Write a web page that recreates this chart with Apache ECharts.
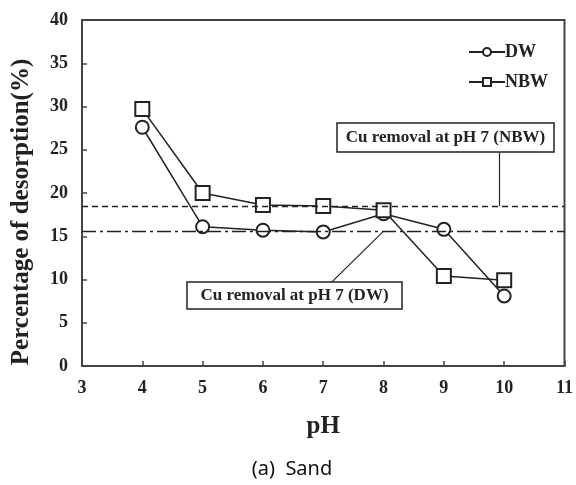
<html>
<head>
<meta charset="UTF-8">
<script src="https://cdn.jsdelivr.net/npm/echarts@6/dist/echarts.min.js"></script>
</head>
<body style="margin:0;background:#fff">
<div id="main" style="width:576px;height:485px;"></div>
<script>
var phValues = [4, 5, 6, 7, 8, 9, 10];
var dwValues = [27.6, 16.1, 15.7, 15.5, 17.6, 15.8, 8.1];
var nbwValues = [29.7, 20.0, 18.6, 18.5, 18.0, 10.4, 9.9];
var refNBW = 18.5;
var refDW = 15.6;

var serif = '"Liberation Serif", "Times New Roman", serif';
var ink = '#222';

function pairs(xs, ys) {
	var res = [];
	for (var i = 0; i < xs.length; i++) res.push([xs[i], ys[i]]);
	return res;
}

var chart = echarts.init(document.getElementById('main'));
chart.setOption({
	animation: false,
	backgroundColor: '#fff',
	grid: { left: 82, right: 9, top: 20, bottom: 119, show: true, borderColor: '#444', borderWidth: 2 },
	legend: {
		orient: 'vertical', left: 463, top: 38, itemGap: 12,
		itemWidth: 36, itemHeight: 10,
		textStyle: { fontFamily: serif, fontWeight: 'bold', fontSize: 18, color: ink, padding: [0, 0, 0, -5] },
		data: ['DW', 'NBW']
	},
	xAxis: {
		type: 'value', min: 3, max: 11, interval: 1,
		name: 'pH', nameLocation: 'middle', nameGap: 48,
		nameTextStyle: { fontFamily: serif, fontWeight: 'bold', fontSize: 25, color: ink },
		axisLine: { lineStyle: { color: '#444', width: 2 } },
		axisTick: { inside: true, length: 5, lineStyle: { color: '#444', width: 1.5 } },
		axisLabel: { fontFamily: serif, fontWeight: 'bold', fontSize: 18, color: ink, margin: 13 },
		splitLine: { show: false }
	},
	yAxis: {
		type: 'value', min: 0, max: 40, interval: 5,
		axisLine: { lineStyle: { color: '#444', width: 2 } },
		axisTick: { inside: true, length: 5, lineStyle: { color: '#444', width: 1.5 } },
		axisLabel: { fontFamily: serif, fontWeight: 'bold', fontSize: 18, color: ink, margin: 14 },
		splitLine: { show: false }
	},
	series: [
		{
			name: 'DW', type: 'line', data: pairs(phValues, dwValues),
			symbol: 'emptyCircle', symbolSize: 13, z: 3,
			lineStyle: { color: ink, width: 1.5 },
			itemStyle: { color: ink, borderColor: ink, borderWidth: 1.5 },
			markLine: {
				silent: true, symbol: 'none', label: { show: false },
				data: [
					[{ coord: [3, refDW], lineStyle: { type: [14, 4, 3, 4], color: ink, width: 1.3 } }, { coord: [11, refDW] }],
					[{ coord: [7.14, 9.7], lineStyle: { type: 'solid', color: ink, width: 1.2 } }, { coord: [8, refDW] }]
				]
			}
		},
		{
			name: 'NBW', type: 'line', data: pairs(phValues, nbwValues),
			symbol: 'emptyRect', symbolSize: 14, z: 3,
			lineStyle: { color: ink, width: 1.5 },
			itemStyle: { color: ink, borderColor: ink, borderWidth: 1.5 },
			markLine: {
				silent: true, symbol: 'none', label: { show: false },
				data: [
					[{ coord: [3, refNBW], lineStyle: { type: [6, 4], color: ink, width: 1.3 } }, { coord: [11, refNBW] }],
					[{ coord: [9.91, 24.7], lineStyle: { type: 'solid', color: ink, width: 1.2 } }, { coord: [9.91, refNBW] }]
				]
			}
		}
	],
	graphic: [
		{
			type: 'text', x: 22, y: 212, rotation: Math.PI / 2,
			style: { text: 'Percentage of desorption(%)', fontFamily: serif, fontWeight: 'bold', fontSize: 25, fill: ink, align: 'center', verticalAlign: 'middle' }
		},
		{
			type: 'rect', shape: { x: 337, y: 123, width: 217, height: 29 }, z: 10,
			style: { fill: '#fff', stroke: ink, lineWidth: 1.5 }
		},
		{
			type: 'text', x: 445.5, y: 137.5, z: 11,
			style: { text: 'Cu removal at pH 7 (NBW)', fontFamily: serif, fontWeight: 'bold', fontSize: 17, fill: ink, align: 'center', verticalAlign: 'middle' }
		},
		{
			type: 'rect', shape: { x: 187, y: 282, width: 215, height: 27 }, z: 10,
			style: { fill: '#fff', stroke: ink, lineWidth: 1.5 }
		},
		{
			type: 'text', x: 294.5, y: 295.5, z: 11,
			style: { text: 'Cu removal at pH 7 (DW)', fontFamily: serif, fontWeight: 'bold', fontSize: 17, fill: ink, align: 'center', verticalAlign: 'middle' }
		},
		{
			type: 'text', x: 292, y: 469,
			style: { text: '(a)  Sand', fontFamily: '"Noto Sans", sans-serif', fontSize: 20, fill: '#111', align: 'center', verticalAlign: 'middle' }
		}
	]
});
</script>
</body>
</html>
